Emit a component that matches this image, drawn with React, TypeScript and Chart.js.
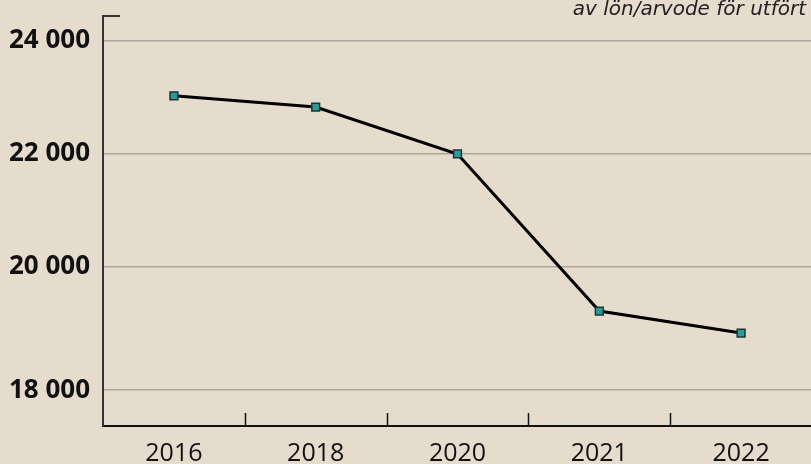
import React, { useEffect, useRef } from "react";
import { Chart, registerables } from "chart.js";

Chart.register(...registerables);

const categories = ["2016", "2018", "2020", "2021", "2022"];
const values = [23030, 22830, 22000, 19220, 18830];
const yTickValues = [17820, 20000, 22000, 24000];
const yTickLabels = ["18 000", "20 000", "22 000", "24 000"];
const subtitleText = "av lön/arvode för utfört";

const BG = "#e6dccd";
const VIEW_W = 811;

const decorPlugin = {
  id: "decor",
  beforeDraw(chart: any) {
    const { ctx, width, height } = chart;
    ctx.save();
    ctx.fillStyle = BG;
    ctx.fillRect(0, 0, width, height);
    ctx.restore();
  },
  afterDraw(chart: any) {
    const { ctx, chartArea } = chart;
    const xs = chart.scales.x;
    ctx.save();
    ctx.strokeStyle = "#111";
    ctx.lineWidth = 1.5;
    for (let i = 0; i < categories.length - 1; i++) {
      const px = Math.round((xs.getPixelForValue(i) + xs.getPixelForValue(i + 1)) / 2) + 0.5;
      ctx.beginPath();
      ctx.moveTo(px, chartArea.bottom);
      ctx.lineTo(px, chartArea.bottom - 13);
      ctx.stroke();
    }
    ctx.strokeStyle = "#333";
    ctx.lineWidth = 2;
    ctx.beginPath();
    ctx.moveTo(chartArea.left - 1, chartArea.top);
    ctx.lineTo(chartArea.left + 17, chartArea.top);
    ctx.stroke();
    ctx.fillStyle = "#222";
    ctx.font = "italic 20px 'DejaVu Sans'";
    ctx.textAlign = "right";
    ctx.textBaseline = "alphabetic";
    ctx.fillText(subtitleText, VIEW_W - 5, 15);
    ctx.restore();
  },
};

export default function App() {
  const ref = useRef<HTMLCanvasElement | null>(null);
  useEffect(() => {
    if (!ref.current) return;
    const chart = new Chart(ref.current, {
      type: "line",
      data: {
        labels: categories,
        datasets: [
          {
            data: values,
            borderColor: "#000",
            borderWidth: 3,
            pointStyle: "rect",
            pointRadius: 5.5,
            pointBackgroundColor: "#2a9d99",
            pointBorderColor: "#1c3434",
            pointBorderWidth: 1.5,
            tension: 0,
            clip: false as any,
          },
        ],
      },
      options: {
        animation: false,
        responsive: true,
        maintainAspectRatio: false,
        layout: { padding: { top: 16, right: 0, left: 0, bottom: 0 } },
        plugins: { legend: { display: false }, tooltip: { enabled: false }, title: { display: false } },
        scales: {
          x: {
            type: "category",
            offset: true,
            grid: { display: false },
            border: { display: true, color: "#111", width: 2 },
            ticks: {
              color: "#111",
              font: { family: "'Open Sans'", size: 25 },
              padding: 5,
              maxRotation: 0,
              autoSkip: false,
            },
            afterFit(scale: any) {
              scale.height = 38;
              scale.paddingLeft = 0;
              scale.paddingRight = 0;
            },
          },
          y: {
            type: "linear",
            min: 17186,
            max: 24442,
            afterBuildTicks(scale: any) {
              scale.ticks = yTickValues.map((v) => ({ value: v }));
            },
            afterFit(scale: any) {
              scale.width = 103;
              scale.paddingTop = 0;
              scale.paddingBottom = 0;
            },
            grid: { color: "#aaa59d", lineWidth: 1.5, drawTicks: false },
            border: { display: true, color: "#333", width: 2 },
            ticks: {
              color: "#111",
              font: { family: "'Open Sans'", size: 26, weight: "bold" },
              padding: 13,
              callback: (v: any) => {
                const i = yTickValues.indexOf(Number(v));
                return i >= 0 ? yTickLabels[i] : "";
              },
            },
          },
        },
      },
      plugins: [decorPlugin],
    });
    return () => chart.destroy();
  }, []);
  return (
    <div style={{ position: "fixed", left: 0, top: 0, width: VIEW_W, height: 464, overflow: "hidden", background: BG }}>
      <div style={{ position: "absolute", left: 0, top: 0, width: VIEW_W + 8, height: 464 }}>
        <canvas ref={ref} />
      </div>
    </div>
  );
}
